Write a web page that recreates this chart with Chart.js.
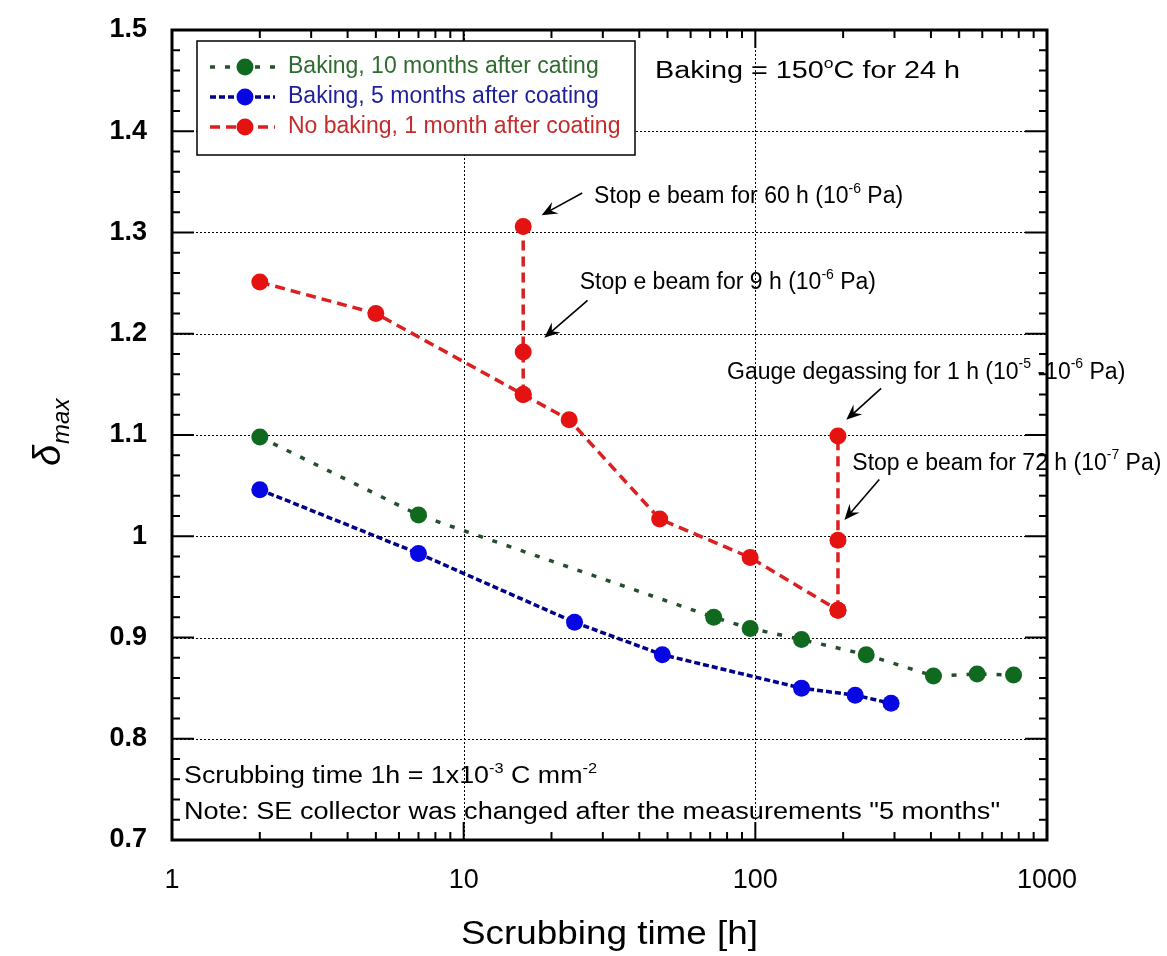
<!DOCTYPE html>
<html>
<head>
<meta charset="utf-8">
<title>Scrubbing of delta max</title>
<script src="https://cdn.jsdelivr.net/npm/chart.js@4.4.1/dist/chart.umd.min.js"></script>
<style>
html, body { margin: 0; padding: 0; background: #fff; }
#wrap { width: 1167px; height: 956px; }
</style>
</head>
<body>
<div id="wrap"><canvas id="sey-chart" width="1167" height="956"></canvas></div>
<script>
// scrubbing time [h] vs delta max, one pair of arrays per run
const greenHours = [2, 7, 72, 96, 144, 240, 408, 576, 768];
const greenDelta = [1.098, 1.021, 0.920, 0.909, 0.898, 0.883, 0.862, 0.864, 0.863];

const blueHours = [2, 7, 24, 48, 144, 220, 292];
const blueDelta = [1.046, 0.983, 0.915, 0.883, 0.850, 0.843, 0.835];

const redHours = [2, 5, 16, 23, 47, 96, 192];
const redDelta = [1.251, 1.220, 1.140, 1.115, 1.017, 0.979, 0.927];

// beam stops: measured again at the same scrubbing time
const redStopHoursA = [16, 16, 16];
const redStopDeltaA = [1.140, 1.182, 1.306];
const redStopHoursB = [192, 192, 192];
const redStopDeltaB = [0.927, 0.996, 1.099];

const seriesLabels = [
    'Baking, 10 months after cating',
    'Baking, 5 months after coating',
    'No baking, 1 month after coating'
];

const xMajor = [1, 10, 100, 1000];
const xTickLabels = ['1', '10', '100', '1000'];
const yMajor = [0.7, 0.8, 0.9, 1.0, 1.1, 1.2, 1.3, 1.4, 1.5];
const yTickLabels = ['0.7', '0.8', '0.9', '1', '1.1', '1.2', '1.3', '1.4', '1.5'];

// text annotations anchored in data coordinates (left edge, middle)
const notes = [
    { runs: ['Stop e beam for 60 h (10', { sup: '-6' }, ' Pa)'], at: [28, 1.335] },
    { runs: ['Stop e beam for 9 h (10', { sup: '-6' }, ' Pa)'], at: [25, 1.250] },
    { runs: ['Gauge degassing for 1 h (10', { sup: '-5' }, ' -10', { sup: '-6' }, ' Pa)'], at: [80, 1.162] },
    { runs: ['Stop e beam for 72 h (10', { sup: '-7' }, ' Pa)'], at: [215, 1.072] }
];
const arrows = [
    { from: [25.5, 1.339], to: [18.5, 1.317] },
    { from: [26.6, 1.233], to: [18.9, 1.196] },
    { from: [270, 1.146], to: [205, 1.115] },
    { from: [266, 1.056], to: [202, 1.016] }
];

const FONT = '"Liberation Sans", Arial, sans-serif';
const GREEN = { line: '#234f2e', mark: '#0f6a1f', text: '#2f6b2f' };
const BLUE = { line: '#00008c', mark: '#0707e4', text: '#1f1f9c' };
const RED = { line: '#dc1f1f', mark: '#e51212', text: '#c42b2b' };

function pts(xs, ys) {
    return xs.map((x, i) => ({ x: x, y: ys[i] }));
}

function series(label, data, c, dash, width) {
    return {
        label: label,
        data: data,
        borderColor: c.line,
        borderWidth: width,
        borderDash: dash,
        pointBackgroundColor: c.mark,
        pointBorderColor: c.mark,
        pointBorderWidth: 0,
        pointRadius: 8.5,
        pointHoverRadius: 8.5,
        tension: 0,
        fill: false
    };
}

function runsWidth(ctx, runs, size) {
    let w = 0;
    runs.forEach(r => {
        if (typeof r === 'string') {
            ctx.font = `${size}px ${FONT}`;
            w += ctx.measureText(r).width;
        } else {
            ctx.font = `${Math.round(size * 0.62)}px ${FONT}`;
            w += ctx.measureText(r.sup).width;
        }
    });
    return w;
}

// draws text with raised superscripts; optional width squeezes it horizontally
function drawRuns(ctx, runs, x, y, size, color, width) {
    const natural = runsWidth(ctx, runs, size);
    const k = width ? width / natural : 1;
    ctx.save();
    ctx.translate(x, y);
    ctx.scale(k, 1);
    ctx.fillStyle = color;
    ctx.textAlign = 'left';
    ctx.textBaseline = 'middle';
    let cx = 0;
    runs.forEach(r => {
        if (typeof r === 'string') {
            ctx.font = `${size}px ${FONT}`;
            ctx.fillText(r, cx, 0);
            cx += ctx.measureText(r).width;
        } else {
            ctx.font = `${Math.round(size * 0.62)}px ${FONT}`;
            ctx.fillText(r.sup, cx, -size * 0.36);
            cx += ctx.measureText(r.sup).width;
        }
    });
    ctx.restore();
}

function drawArrow(ctx, x1, y1, x2, y2) {
    const a = Math.atan2(y2 - y1, x2 - x1);
    const len = 17, spread = 0.4;
    ctx.save();
    ctx.strokeStyle = '#000';
    ctx.fillStyle = '#000';
    ctx.lineWidth = 1.6;
    ctx.beginPath();
    ctx.moveTo(x1, y1);
    ctx.lineTo(x2 - 6 * Math.cos(a), y2 - 6 * Math.sin(a));
    ctx.stroke();
    ctx.beginPath();
    ctx.moveTo(x2, y2);
    ctx.lineTo(x2 - len * Math.cos(a - spread), y2 - len * Math.sin(a - spread));
    ctx.lineTo(x2 - 10 * Math.cos(a), y2 - 10 * Math.sin(a));
    ctx.lineTo(x2 - len * Math.cos(a + spread), y2 - len * Math.sin(a + spread));
    ctx.closePath();
    ctx.fill();
    ctx.restore();
}

const decor = {
    id: 'decor',
    beforeDatasetsDraw(chart) {
        const { ctx, chartArea: ca, scales } = chart;
        ctx.save();
        ctx.strokeStyle = '#000';
        ctx.lineWidth = 1;
        ctx.setLineDash([2, 2]);
        yMajor.slice(1, -1).forEach(v => {
            const y = Math.round(scales.y.getPixelForValue(v)) + 0.5;
            ctx.beginPath();
            ctx.moveTo(ca.left, y);
            ctx.lineTo(ca.right, y);
            ctx.stroke();
        });
        xMajor.slice(1, -1).forEach(v => {
            const x = Math.round(scales.x.getPixelForValue(v)) + 0.5;
            ctx.beginPath();
            ctx.moveTo(x, ca.top);
            ctx.lineTo(x, ca.bottom);
            ctx.stroke();
        });
        ctx.restore();
    },
    afterDatasetsDraw(chart) {
        const { ctx, chartArea: ca, scales } = chart;
        const sx = scales.x, sy = scales.y;

        // ticks pointing inward on all four sides
        ctx.save();
        ctx.strokeStyle = '#000';
        ctx.lineWidth = 2;
        const tick = (x1, y1, x2, y2) => {
            ctx.beginPath();
            ctx.moveTo(x1, y1);
            ctx.lineTo(x2, y2);
            ctx.stroke();
        };
        for (let v = 0.72; v < 1.5; v += 0.02) {
            const major = Math.abs(v * 10 - Math.round(v * 10)) < 1e-6;
            const len = major ? 22 : 8;
            const y = sy.getPixelForValue(v);
            tick(ca.left, y, ca.left + len, y);
            tick(ca.right, y, ca.right - len, y);
        }
        [1, 10, 100].forEach(d => {
            for (let m = 1; m <= 9; m++) {
                if (d === 1 && m === 1) continue;
                const len = m === 1 ? 18 : 8;
                const x = sx.getPixelForValue(d * m);
                tick(x, ca.bottom, x, ca.bottom - len);
                tick(x, ca.top, x, ca.top + len);
            }
        });
        ctx.lineWidth = 3;
        ctx.strokeRect(ca.left, ca.top, ca.right - ca.left, ca.bottom - ca.top);
        ctx.restore();

        // legend box in the upper left corner
        ctx.save();
        const lx = ca.left + 25, ly = ca.top + 11;
        ctx.fillStyle = '#fff';
        ctx.fillRect(lx, ly, 438, 114);
        ctx.strokeStyle = '#000';
        ctx.lineWidth = 1.5;
        ctx.strokeRect(lx, ly, 438, 114);
        const legendText = [GREEN.text, BLUE.text, RED.text];
        chart.data.datasets.slice(0, 3).forEach((ds, i) => {
            const y = ly + 26 + i * 30;
            ctx.strokeStyle = ds.borderColor;
            ctx.lineWidth = ds.borderWidth;
            ctx.setLineDash(ds.borderDash);
            ctx.beginPath();
            ctx.moveTo(lx + 13, y);
            ctx.lineTo(lx + 78, y);
            ctx.stroke();
            ctx.setLineDash([]);
            ctx.fillStyle = ds.pointBackgroundColor;
            ctx.beginPath();
            ctx.arc(lx + 48, y, ds.pointRadius, 0, Math.PI * 2);
            ctx.fill();
            drawRuns(ctx, [ds.label], lx + 91, y, 23, legendText[i]);
        });
        ctx.restore();

        drawRuns(ctx, ['Baking = 150', { sup: 'o' }, 'C for 24 h'], 655, ca.top + 42, 23, '#000', 305);
        drawRuns(ctx, ['Scrubbing time 1h = 1x10', { sup: '-3' }, ' C mm', { sup: '-2' }],
            ca.left + 12, ca.bottom - 63, 23, '#000', 413);
        drawRuns(ctx, ['Note: SE collector was changed after the measurements "5 months"'],
            ca.left + 12, ca.bottom - 27, 23, '#000', 816);

        notes.forEach(n => {
            drawRuns(ctx, n.runs, sx.getPixelForValue(n.at[0]), sy.getPixelForValue(n.at[1]), 23, '#000');
        });
        arrows.forEach(a => {
            drawArrow(ctx,
                sx.getPixelForValue(a.from[0]), sy.getPixelForValue(a.from[1]),
                sx.getPixelForValue(a.to[0]), sy.getPixelForValue(a.to[1]));
        });

        // axis titles
        ctx.save();
        ctx.fillStyle = '#000';
        ctx.font = `34px ${FONT}`;
        ctx.textAlign = 'center';
        ctx.textBaseline = 'middle';
        const title = 'Scrubbing time [h]';
        const k = 297 / ctx.measureText(title).width;
        ctx.translate((ca.left + ca.right) / 2, 935);
        ctx.scale(k, 1);
        ctx.fillText(title, 0, 0);
        ctx.restore();

        ctx.save();
        ctx.fillStyle = '#000';
        ctx.translate(60, 466);
        ctx.rotate(-Math.PI / 2);
        ctx.textBaseline = 'alphabetic';
        ctx.font = `italic 38px ${FONT}`;
        ctx.fillText('\u03b4', 0, 0);
        const dw = ctx.measureText('\u03b4').width;
        ctx.font = `italic 24px ${FONT}`;
        ctx.fillText('max', dw + 1, 9);
        ctx.restore();
    }
};

new Chart(document.getElementById('sey-chart'), {
    type: 'line',
    data: {
        datasets: [
            series(seriesLabels[0], pts(greenHours, greenDelta), GREEN, [5, 10], 3.5),
            series(seriesLabels[1], pts(blueHours, blueDelta), BLUE, [6, 3], 3.5),
            series(seriesLabels[2], pts(redHours, redDelta), RED, [10, 6], 3.5),
            series('', pts(redStopHoursA, redStopDeltaA), RED, [10, 6], 3.5),
            series('', pts(redStopHoursB, redStopDeltaB), RED, [10, 6], 3.5)
        ]
    },
    options: {
        responsive: false,
        animation: false,
        layout: { padding: { top: 30, right: 120, bottom: 0, left: 0 } },
        plugins: {
            legend: { display: false },
            tooltip: { enabled: false }
        },
        scales: {
            x: {
                type: 'logarithmic',
                min: 1,
                max: 1000,
                afterBuildTicks: s => { s.ticks = xMajor.map(v => ({ value: v })); },
                afterFit: s => {
                    s.height = 116;
                    s.paddingLeft = 0;
                    s.paddingRight = 0;
                },
                ticks: {
                    callback: (v, i) => xTickLabels[i],
                    font: { family: FONT, size: 27 },
                    color: '#000',
                    padding: 24,
                    maxRotation: 0,
                    autoSkip: false
                },
                grid: { display: false, drawTicks: false },
                border: { display: false }
            },
            y: {
                type: 'linear',
                min: 0.7,
                max: 1.5,
                afterBuildTicks: s => { s.ticks = yMajor.map(v => ({ value: v })); },
                afterFit: s => {
                    s.width = 172;
                    s.paddingTop = 0;
                    s.paddingBottom = 0;
                },
                ticks: {
                    callback: (v, i) => yTickLabels[i],
                    font: { family: FONT, size: 27, weight: 'bold' },
                    color: '#000',
                    padding: 25
                },
                grid: { display: false, drawTicks: false },
                border: { display: false }
            }
        }
    },
    plugins: [decor]
});
</script>
</body>
</html>
